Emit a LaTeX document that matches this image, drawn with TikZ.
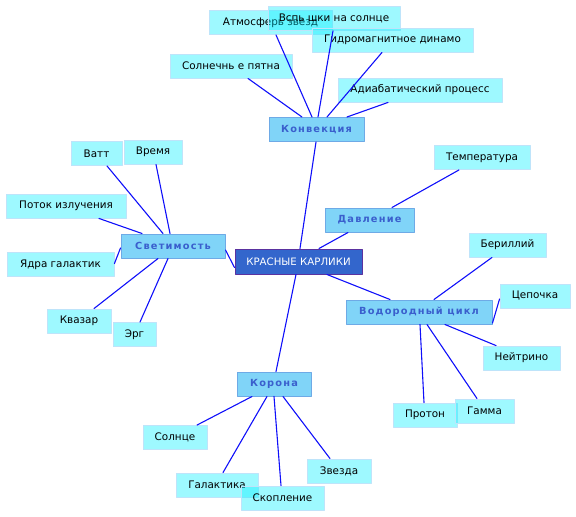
\documentclass[tikz,border=0pt]{standalone}
\usepackage{fontspec}
\setmainfont{DejaVu Sans}
\newfontfamily\branchfont[LetterSpace=12]{DejaVu Sans}
\usepackage{tikz}
\definecolor{leaffill}{RGB}{0,238,255}
\definecolor{leafline}{RGB}{190,228,250}
\definecolor{branchfill}{RGB}{128,212,248}
\definecolor{branchline}{RGB}{110,170,230}
\definecolor{branchtext}{RGB}{58,95,205}
\definecolor{rootfill}{RGB}{51,102,204}
\definecolor{rootline}{RGB}{90,50,160}
\definecolor{linkcol}{RGB}{15,15,250}
\tikzset{
  every picture/.style={line join=round, line cap=round},
  leaf/.style={draw=leafline, line width=0.9pt, fill=leaffill, fill opacity=0.38,
    text opacity=1, minimum height=24pt, inner sep=0pt, font=\fontsize{10.4}{12}\selectfont},
  branch/.style={draw=branchline, line width=1pt, fill=branchfill, text=branchtext,
    minimum height=24pt, inner sep=0pt, font=\fontsize{9.8}{12}\branchfont\bfseries},
  root/.style={draw=rootline, line width=1pt, fill=rootfill, text=white,
    minimum height=25pt, inner sep=0pt, font=\fontsize{10.2}{12}\selectfont},
  link/.style={draw=linkcol, line width=1.1pt},
}

\begin{document}
\begin{tikzpicture}[x=1pt, y=-1pt]
\useasboundingbox (0,0) rectangle (576,517);
% centre
\node[root, minimum width=127pt] (krasn) at (298.5,261.5) {КРАСНЫЕ КАРЛИКИ};
% branches
\node[branch, minimum width=95pt] (konv) at (316.5,129.5) {Конвекция};
\node[branch, minimum width=104pt] (svet) at (173,246) {Светимость};
\node[branch, minimum width=89pt] (davl) at (369.5,220) {Давление};
\node[branch, minimum width=146pt] (vodor) at (419,312) {Водородный цикл};
\node[branch, minimum width=74pt] (korona) at (274,384) {Корона};
% Konvekcija leaves
\node[leaf, minimum width=123pt] (atm) at (270.5,22.5) {Атмосферь звезд};
\node[leaf, minimum width=132pt] (vsp) at (334,18.5) {Вспь шки на солнце};
\node[leaf, minimum width=161pt] (gidro) at (392.5,40) {Гидромагнитное динамо};
\node[leaf, minimum width=122pt] (solnp) at (231,66) {Солнечнь е пятна};
\node[leaf, minimum width=164pt] (adiab) at (420,90) {Адиабатический процесс};
% Svetimost leaves
\node[leaf, minimum width=51pt] (vatt) at (96.5,153.5) {Ватт};
\node[leaf, minimum width=58pt] (vremya) at (153,152) {Время};
\node[leaf, minimum width=120pt] (potok) at (66,206) {Поток излучения};
\node[leaf, minimum width=107pt] (yadra) at (60.5,264.5) {Ядра галактик};
\node[leaf, minimum width=64pt] (kvazar) at (79,321) {Квазар};
\node[leaf, minimum width=43pt] (erg) at (134.5,334.5) {Эрг};
% Davlenie leaves
\node[leaf, minimum width=96pt] (temp) at (482,157.5) {Температура};
% Vodorodnyj cikl leaves
\node[leaf, minimum width=77pt] (beril) at (507.5,245) {Бериллий};
\node[leaf, minimum width=70pt] (tsep) at (535,296) {Цепочка};
\node[leaf, minimum width=77pt] (neitr) at (521.5,358) {Нейтрино};
\node[leaf, minimum width=64pt] (proton) at (425,415) {Протон};
\node[leaf, minimum width=59pt] (gamma) at (484.5,411) {Гамма};
% Korona leaves
\node[leaf, minimum width=64pt] (solnce) at (175,437.5) {Солнце};
\node[leaf, minimum width=82pt] (galakt) at (217,485) {Галактика};
\node[leaf, minimum width=83pt] (skopl) at (282.5,498) {Скопление};
\node[leaf, minimum width=64pt] (zvezda) at (339,471) {Звезда};
% links
\draw[link] ([xshift=17pt]solnp.south) -- ([xshift=-14.5pt]konv.north);
\draw[link] ([xshift=5.5pt]atm.south) -- ([xshift=-4.5pt]konv.north);
\draw[link] ([xshift=-1pt]vsp.south) -- ([xshift=1.5pt]konv.north);
\draw[link] ([xshift=-10.5pt]gidro.south) -- ([xshift=10.5pt]konv.north);
\draw[link] ([xshift=-32pt]adiab.south) -- ([xshift=30.5pt]konv.north);
\draw[link] ([xshift=-0.5pt]konv.south) -- ([xshift=1.5pt]krasn.north);
\draw[link] ([xshift=10.5pt]vatt.south) -- ([xshift=-10pt]svet.north);
\draw[link] ([xshift=3pt]vremya.south) -- ([xshift=-3pt]svet.north);
\draw[link] ([xshift=33pt]potok.south) -- ([xshift=-31pt]svet.north);
\draw[link] ([yshift=1pt]yadra.east) -- ([yshift=-2pt]svet.west);
\draw[link] ([xshift=15pt]kvazar.north) -- ([xshift=-15pt]svet.south);
\draw[link] ([xshift=5.5pt]erg.north) -- ([xshift=-5pt]svet.south);
\draw[link] ([yshift=-4pt]svet.east) -- ([yshift=-6pt]krasn.west);
\draw[link] ([xshift=-21.5pt]davl.south) -- ([xshift=20.5pt]krasn.north);
\draw[link] ([xshift=-23pt]temp.south) -- ([xshift=22.5pt]davl.north);
\draw[link] ([xshift=28.5pt]krasn.south) -- ([xshift=-29pt]vodor.north);
\draw[link] ([xshift=-15.5pt]beril.south) -- ([xshift=15pt]vodor.north);
\draw[link] ([yshift=-3pt]tsep.west) -- ([yshift=-11pt]vodor.east);
\draw[link] ([xshift=-25.5pt]neitr.north) -- ([xshift=26pt]vodor.south);
\draw[link] ([xshift=-7.5pt]gamma.north) -- ([xshift=8pt]vodor.south);
\draw[link] ([xshift=-1pt]proton.north) -- ([xshift=1pt]vodor.south);
\draw[link] ([xshift=-2.5pt]krasn.south) -- ([xshift=2pt]korona.north);
\draw[link] ([xshift=22pt]solnce.north) -- ([xshift=-22pt]korona.south);
\draw[link] ([xshift=6pt]galakt.north) -- ([xshift=-7pt]korona.south);
\draw[link] ([xshift=-1.5pt]skopl.north) -- (korona.south);
\draw[link] ([xshift=-9pt]zvezda.north) -- ([xshift=9pt]korona.south);
\end{tikzpicture}
\end{document}
